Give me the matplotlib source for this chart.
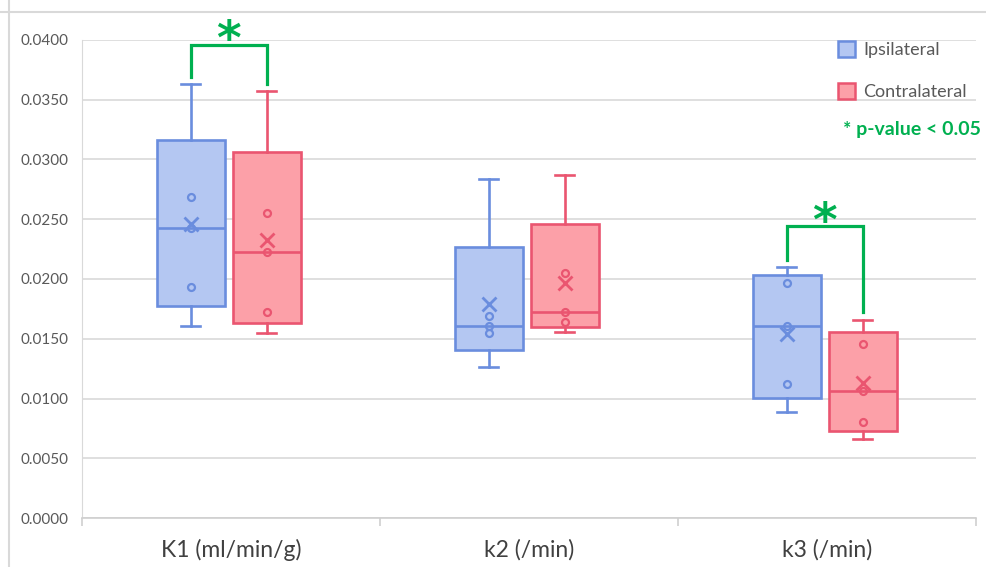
import numpy as np
import matplotlib

matplotlib.use('agg')

import matplotlib.pyplot as plt
from matplotlib.patches import Patch
from matplotlib.lines import Line2D

categories = ['K1 (ml/min/g)', 'k2 (/min)', 'k3 (/min)']
series_names = ['Ipsilateral', 'Contralateral']

# five values per group
ipsilateral = [[0.0161, 0.0193, 0.0243, 0.0269, 0.0363],
               [0.0126, 0.0155, 0.0161, 0.0169, 0.0284],
               [0.0089, 0.0112, 0.0161, 0.0197, 0.0210]]
contralateral = [[0.0155, 0.0172, 0.0223, 0.0255, 0.0357],
                 [0.0156, 0.0164, 0.0172, 0.0205, 0.0287],
                 [0.0066, 0.0080, 0.0106, 0.0146, 0.0166]]

significant = [0, 2]
bracket_top = [0.0396, 0.0244]
y_ticks = np.arange(0, 0.0401, 0.005)

plt.rcParams['font.family'] = ['Lato', 'DejaVu Sans']

blue_edge = '#6A8DDE'
blue_fill = '#B4C7F2'
red_edge = '#EA5570'
red_fill = '#FCA0A8'
green = '#00B050'
grid_grey = '#D9D9D9'


def box_stats(values):
    # Excel uses exclusive quartiles
    q1, med, q3 = np.percentile(values, [25, 50, 75], method='weibull')
    return dict(med=med, q1=q1, q3=q3, whislo=min(values), whishi=max(values),
                mean=np.mean(values), fliers=[])


fig = plt.figure(figsize=(9.87, 5.67), dpi=100)
ax = fig.add_axes([0.0831, 0.0864, 0.9058, 0.8431])

x = np.arange(len(categories))
offsets = [-0.135, 0.12]
groups = [(ipsilateral, offsets[0], blue_edge, blue_fill),
          (contralateral, offsets[1], red_edge, red_fill)]

for data, offset, edge, fill in groups:
    pos = x + offset
    ax.bxp([box_stats(d) for d in data], positions=pos, widths=0.23, capwidths=0.065,
           patch_artist=True, showmeans=True, showfliers=False, manage_ticks=False,
           boxprops=dict(facecolor=fill, edgecolor=edge, linewidth=1.9),
           medianprops=dict(color=edge, linewidth=1.9),
           whiskerprops=dict(color=edge, linewidth=1.9),
           capprops=dict(color=edge, linewidth=1.9),
           meanprops=dict(marker='x', markeredgecolor=edge, markersize=10, markeredgewidth=2),
           zorder=3)
    for p, d in zip(pos, data):
        inner = sorted(d)[1:-1]
        ax.plot([p] * len(inner), inner, 'o', mfc='none', mec=edge, ms=5, mew=1.6, zorder=4)

# significance brackets
for i, top in zip(significant, bracket_top):
    left = x[i] + offsets[0]
    right = x[i] + offsets[1]
    ax.plot([left, left, right, right],
            [max(ipsilateral[i]) + 0.0006, top, top, max(contralateral[i]) + 0.0006],
            color=green, lw=2.3, solid_joinstyle='miter', clip_on=False, zorder=5)
    ax.annotate('*', ((left + right) / 2, top), xytext=(0, -7), textcoords='offset points',
                ha='center', va='baseline', fontsize=34, fontweight='bold', color=green,
                family='DejaVu Sans', annotation_clip=False)

ax.set_xlim(-0.5, 2.5)
ax.set_ylim(0, 0.04)
ax.set_yticks(y_ticks)
ax.set_yticklabels([f'{v:.4f}' for v in y_ticks])
ax.yaxis.grid(True, color=grid_grey, lw=1.2)
ax.set_axisbelow(True)
for side in ['top', 'right']:
    ax.spines[side].set_visible(False)
ax.spines['left'].set_color(grid_grey)
ax.spines['bottom'].set_color('#CFCFCF')
ax.spines['bottom'].set_linewidth(1.2)
ax.tick_params(axis='y', length=0, pad=10, labelsize=11, labelcolor='#595959')
ax.set_xticks(x)
ax.set_xticklabels(categories)
ax.set_xticks([-0.5, 0.5, 1.5, 2.5], minor=True)
ax.tick_params(axis='x', which='major', length=0, pad=15, labelsize=16.5, labelcolor='#404040')
ax.tick_params(axis='x', which='minor', length=6, color='#CFCFCF', width=1.2)

handles = [Patch(facecolor=blue_fill, edgecolor=blue_edge, linewidth=1.8),
           Patch(facecolor=red_fill, edgecolor=red_edge, linewidth=1.8)]
ax.legend(handles, series_names, loc='upper left', bbox_to_anchor=(838 / 987, 1 - 41 / 567),
          bbox_transform=fig.transFigure, frameon=False, handlelength=0.95, handleheight=0.95,
          labelspacing=1.4, handletextpad=0.45, borderpad=0, borderaxespad=0,
          fontsize=13, labelcolor='#595959')

fig.text(843 / 987, 1 - 130 / 567, '* p-value < 0.05', color=green, fontweight='bold',
         fontsize=14, va='center', ha='left')

# outer frame lines of the original picture
fig.add_artist(Line2D([9 / 987, 9 / 987], [0, 1], color=grid_grey, lw=1.5))
fig.add_artist(Line2D([0, 1], [1 - 12 / 567, 1 - 12 / 567], color=grid_grey, lw=1.5))

fig.savefig('out.png', dpi=100)
